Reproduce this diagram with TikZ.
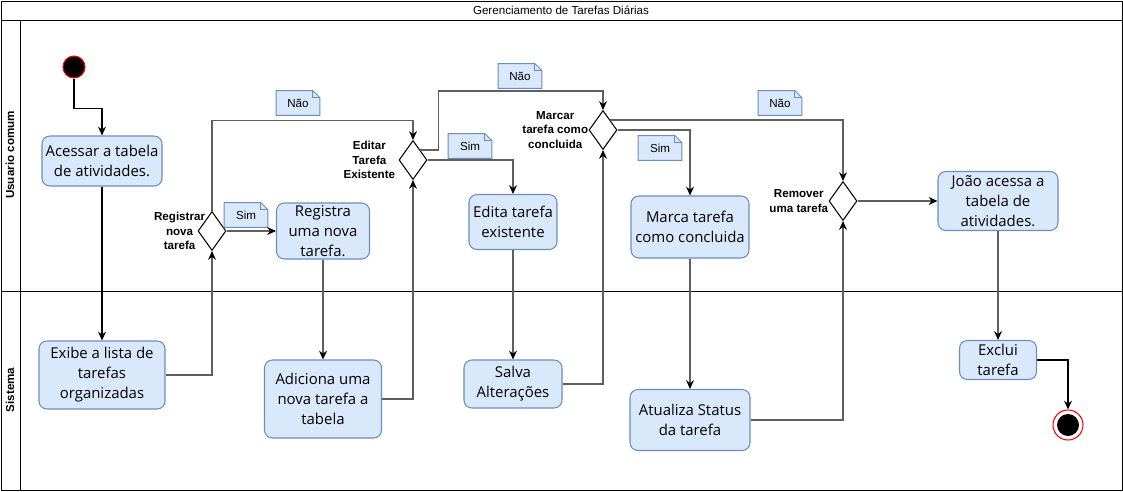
\documentclass[tikz,border=0pt]{standalone}
\usepackage{fontspec}
\setmainfont{Open Sans}
\newfontfamily\lblfont{Liberation Sans}
\usetikzlibrary{shapes.geometric,arrows.meta}
\definecolor{boxfill}{HTML}{DAE8FC}
\definecolor{boxline}{HTML}{6C8EBF}
\definecolor{flowgray}{HTML}{5F5F5F}
\tikzset{
	act/.style={rectangle,rounded corners=4.5pt,draw=boxline,fill=boxfill,line width=0.6pt,align=center,inner sep=0pt,font=\fontsize{8.5}{11.4}\selectfont},
	dec/.style={diamond,draw=black,fill=white,line width=0.6pt,minimum width=0.56cm,minimum height=0.78cm,inner sep=0pt},
	declab/.style={font=\lblfont\bfseries\fontsize{6.6}{8.3}\selectfont,align=center,inner sep=0pt},
	notebox/.style={minimum width=0.86cm,minimum height=0.48cm,inner sep=0pt,font=\lblfont\fontsize{6.6}{8}\selectfont},
	flow/.style={draw=flowgray,line width=0.6pt,-{Stealth[length=5pt,width=4.5pt,black]}},
	flowk/.style={draw=black,line width=0.6pt,-{Stealth[length=5pt,width=4.5pt,black]}},
	lane/.style={draw=black,line width=0.5pt}
}
\newcommand{\actbox}[6]{\node[act,minimum width=#3*0.02cm,minimum height=#4*0.02cm] (#5) at (#1,#2) {#6};}
\newcommand{\decision}[5]{\node[dec] (#3) at (#1,#2) {}; \node[declab,anchor=east] (#3lab) at ([xshift=#4]#3.west) {#5};}
\newcommand{\notelab}[4]{\node[notebox] (#3) at (#1,#2) {#4};
	\filldraw[draw=boxline,fill=boxfill,line width=0.5pt] (#3.south west) -- (#3.north west) -- ([xshift=-4pt]#3.north east) -- ([yshift=-4pt]#3.north east) -- (#3.south east) -- cycle;
	\draw[boxline,line width=0.5pt] ([xshift=-4pt]#3.north east) -- ([xshift=-4pt,yshift=-4pt]#3.north east) -- ([yshift=-4pt]#3.north east);
	\node[notebox] at (#3) {#4};}

\begin{document}
\begin{tikzpicture}[x=0.02cm,y=-0.02cm]
	\useasboundingbox (0,0) rectangle (1123,491);
	% swimlanes
	\draw[lane] (1,1) rectangle (1122,490);
	\draw[lane] (1,20) -- (1122,20) (20,20) -- (20,490) (1,291) -- (1122,291);
	\node[font=\lblfont\fontsize{6.6}{8}\selectfont] (title) at (561,10) {Gerenciamento de Tarefas Diárias};
	\node[declab,rotate=90] (lane1) at (10,155) {Usuario comum};
	\node[declab,rotate=90] (lane2) at (10,390) {Sistema};
	% start / end
	\node[circle,fill=black,draw=red,line width=0.6pt,minimum size=0.44cm,inner sep=0pt] (start) at (74,67) {};
	\node[circle,fill=white,draw=red,line width=0.6pt,minimum size=0.6cm,inner sep=0pt] (stop) at (1068,425) {};
	\node[circle,fill=black,minimum size=0.44cm,inner sep=0pt] (stopin) at (1068,425) {};
	% activities
	\actbox{102}{161}{120}{50}{acessar}{Acessar a tabela\\de atividades.}
	\actbox{102}{375}{126}{68}{exibe}{Exibe a lista de\\tarefas\\organizadas}
	\actbox{323}{231}{93}{56}{registra}{Registra\\uma nova\\tarefa.}
	\actbox{323}{399}{117}{78}{adiciona}{Adiciona uma\\nova tarefa a\\tabela}
	\actbox{513}{222}{88}{55}{edita}{Edita tarefa\\existente}
	\actbox{513}{384}{98}{48}{salva}{Salva\\Alterações}
	\actbox{690}{227}{118}{62}{marca}{Marca tarefa\\como concluida}
	\actbox{690}{420}{120}{61}{atualiza}{Atualiza Status\\da tarefa}
	\actbox{998}{201}{120}{59}{joao}{João acessa a\\tabela de\\atividades.}
	\actbox{998}{360}{77}{39}{exclui}{Exclui\\tarefa}
	% decisions
	\decision{212}{231}{dreg}{4.5pt}{Registrar\\nova\\tarefa}
	\decision{413}{160}{dedit}{-1.7pt}{Editar\\Tarefa\\Existente}
	\decision{603}{130}{dmarc}{0pt}{Marcar\\tarefa como\\concluida}
	\decision{843}{201}{drem}{0pt}{Remover\\uma tarefa}
	% notes
	\notelab{298}{103}{nnao1}{Não}
	\notelab{246}{215}{nsim1}{Sim}
	\notelab{520}{76}{nnao2}{Não}
	\notelab{470}{146}{nsim2}{Sim}
	\notelab{660}{148}{nsim3}{Sim}
	\notelab{780}{103}{nnao3}{Não}
	% flows
	\draw[flowk] (start.south) -- ++(0,30) -| (acessar.north);
	\draw[flowk] (acessar) -- (exibe);
	\draw[flow] (exibe.east) -| (dreg.south);
	\draw[flow] (dreg.east) -- (registra.west);
	\draw[flow] (dreg.north) -- ++(0,-90.5) -| (dedit.north);
	\draw[flow] (registra) -- (adiciona);
	\draw[flow] (adiciona.east) -| (dedit.south);
	\draw[flow] (dedit.east) -| (edita.north);
	\draw[flow] (dedit.north east) -- ++(18,0) -- ++(0,-59) -| (dmarc.north);
	\draw[flow] (edita) -- (salva);
	\draw[flow] (salva.east) -| (dmarc.south);
	\draw[flow] (dmarc.east) -| (marca.north);
	\draw[flow] (dmarc.north east) -| (drem.north);
	\draw[flow] (marca) -- (atualiza);
	\draw[flow] (atualiza.east) -| (drem.south);
	\draw[flow] (drem.east) -- (joao.west);
	\draw[flow] (joao) -- (exclui);
	\draw[flowk] (exclui.east) -| (stop.north);
\end{tikzpicture}
\end{document}
